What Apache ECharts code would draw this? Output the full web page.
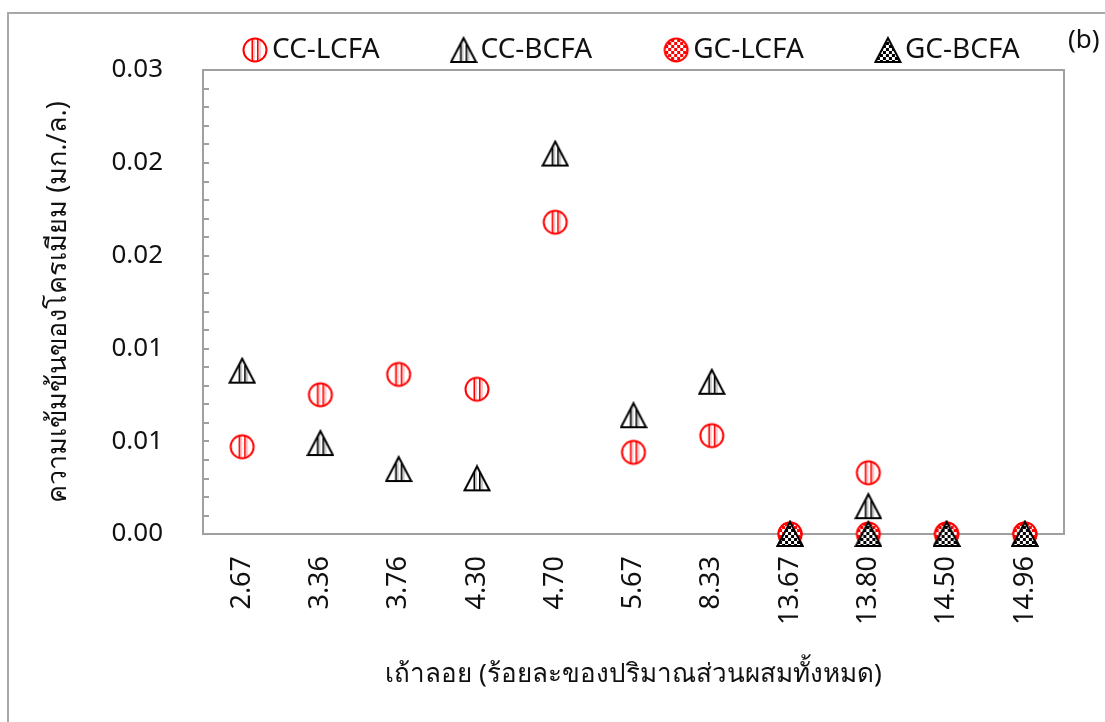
<!DOCTYPE html>
<html>
<head>
<meta charset="utf-8">
<style>
  html, body { margin: 0; padding: 0; background: #fff; }
  #chart { width: 1105px; height: 722px; }
</style>
<script src="https://cdn.jsdelivr.net/npm/echarts@6/dist/echarts.min.js"></script>
</head>
<body>
<div id="chart"></div>
<script>
// Fly ash content (% of total mix) on the category axis
const categories = ['2.67', '3.36', '3.76', '4.30', '4.70', '5.67', '8.33', '13.67', '13.80', '14.50', '14.96'];

// Chromium concentration (mg/L) for each mix
const ccLcfa = [0.0047, 0.0075, 0.0086, 0.0078, 0.0168, 0.0044, 0.0053, 0, 0.0033, 0, 0];
const ccBcfa = [0.0088, 0.0049, 0.0035, 0.0030, 0.0205, 0.0064, 0.0082, 0, 0.0015, 0, 0];
const gcLcfa = [null, null, null, null, null, null, null, 0, 0, 0, 0];
const gcBcfa = [null, null, null, null, null, null, null, 0, 0, 0, 0];

const yTicks = { min: 0, max: 0.025, interval: 0.005 };

const FONT = '"Noto Sans", "DejaVu Sans", sans-serif';
const SYM = 28; // marker canvas size in px

// Marker images: outlined circle / triangle filled with stripes or a checkerboard
function circlePath(g) {
  g.beginPath();
  g.arc(SYM / 2, SYM / 2, 11.5, 0, Math.PI * 2);
  g.closePath();
}
function trianglePath(g) {
  g.beginPath();
  g.moveTo(SYM / 2, 2);
  g.lineTo(SYM - 1.5, SYM - 2);
  g.lineTo(1.5, SYM - 2);
  g.closePath();
}
function drawStripes(g, color, soft) {
  g.fillStyle = color;
  g.fillRect(SYM / 2 - 3.5, 0, 1.6, SYM);
  g.fillRect(SYM / 2 + 2, 0, 1.6, SYM);
  g.fillStyle = soft;
  g.fillRect(SYM / 2 - 1.5, 0, 1, SYM);
  g.fillRect(SYM / 2 + 4.5, 0, 1, SYM);
}
function drawChecker(g, color) {
  g.fillStyle = color;
  for (let y = 0; y < SYM; y += 3) {
    for (let x = 0; x < SYM; x += 3) {
      if (((x + y) / 3) % 2 === 0) g.fillRect(x, y, 3, 3);
    }
  }
}
function markerImage(shape, fill, color, soft) {
  const c = document.createElement('canvas');
  c.width = SYM; c.height = SYM;
  const g = c.getContext('2d');
  const path = shape === 'circle' ? circlePath : trianglePath;
  g.save();
  path(g);
  g.fillStyle = '#fff';
  g.fill();
  g.clip();
  if (fill === 'stripes') drawStripes(g, color, soft); else drawChecker(g, color);
  g.restore();
  path(g);
  g.lineWidth = 2;
  g.lineJoin = 'miter';
  g.strokeStyle = color;
  g.stroke();
  return 'image://' + c.toDataURL();
}

const chart = echarts.init(document.getElementById('chart'), null, { renderer: 'canvas' });

function markerSeries(name, data, symbol) {
  return {
    name, type: 'scatter', data, symbol, symbolSize: SYM, clip: false,
    itemStyle: { opacity: 1 },
    emphasis: { disabled: true }
  };
}

chart.setOption({
  animation: false,
  backgroundColor: '#fff',
  textStyle: { fontFamily: FONT },
  grid: { left: 203, right: 41, top: 70, bottom: 188, show: true, borderColor: '#a0a0a0', borderWidth: 2, containLabel: false },
  legend: {
    left: 236, top: 31, itemGap: 70, itemWidth: 28, itemHeight: 28,
    textStyle: { fontSize: 28, color: '#111', fontFamily: FONT, padding: [0, 0, 0, -2] },
    data: ['CC-LCFA', 'CC-BCFA', 'GC-LCFA', 'GC-BCFA']
  },
  xAxis: {
    type: 'category', data: categories, boundaryGap: true,
    axisLine: { show: true, lineStyle: { color: '#a0a0a0', width: 2 } },
    axisTick: { show: false },
    axisLabel: { rotate: 90, margin: 22, fontSize: 27, color: '#111', fontFamily: FONT, interval: 0 },
    splitLine: { show: false },
    name: 'เถ้าลอย (ร้อยละของปริมาณส่วนผสมทั้งหมด)', nameLocation: 'middle', nameGap: 128,
    nameTextStyle: { fontSize: 26, color: '#111', fontFamily: FONT }
  },
  yAxis: {
    type: 'value', min: yTicks.min, max: yTicks.max, interval: yTicks.interval,
    axisLine: { show: true, lineStyle: { color: '#a0a0a0', width: 2 } },
    axisTick: { show: true, inside: true, length: 6, lineStyle: { color: '#a0a0a0', width: 2 } },
    minorTick: { show: true, splitNumber: 5, length: 6, lineStyle: { color: '#a0a0a0', width: 2 } },
    axisLabel: {
      margin: 40, fontSize: 26, color: '#111', fontFamily: FONT,
      formatter: v => (Math.round(v * 100 + 1e-9) / 100).toFixed(2)
    },
    splitLine: { show: false },
    name: 'ความเข้มข้นของโครเมียม (มก./ล.)', nameLocation: 'middle', nameGap: 131,
    nameTextStyle: { fontSize: 27, color: '#111', fontFamily: FONT }
  },
  graphic: [
    { type: 'rect', silent: true, z: -1, shape: { x: 8, y: 13, width: 1200, height: 800 },
      style: { fill: 'none', stroke: '#a8a8a8', lineWidth: 2 } },
    { type: 'text', left: 1068, top: 28, silent: true,
      style: { text: '(b)', fontSize: 26, fill: '#111', fontFamily: FONT } }
  ],
  series: [
    markerSeries('CC-LCFA', ccLcfa, markerImage('circle', 'stripes', '#ff0000', '#ff9a9a')),
    markerSeries('CC-BCFA', ccBcfa, markerImage('triangle', 'stripes', '#000000', '#9a9a9a')),
    markerSeries('GC-LCFA', gcLcfa, markerImage('circle', 'checker', '#ff0000')),
    markerSeries('GC-BCFA', gcBcfa, markerImage('triangle', 'checker', '#000000'))
  ]
});
</script>
</body>
</html>
